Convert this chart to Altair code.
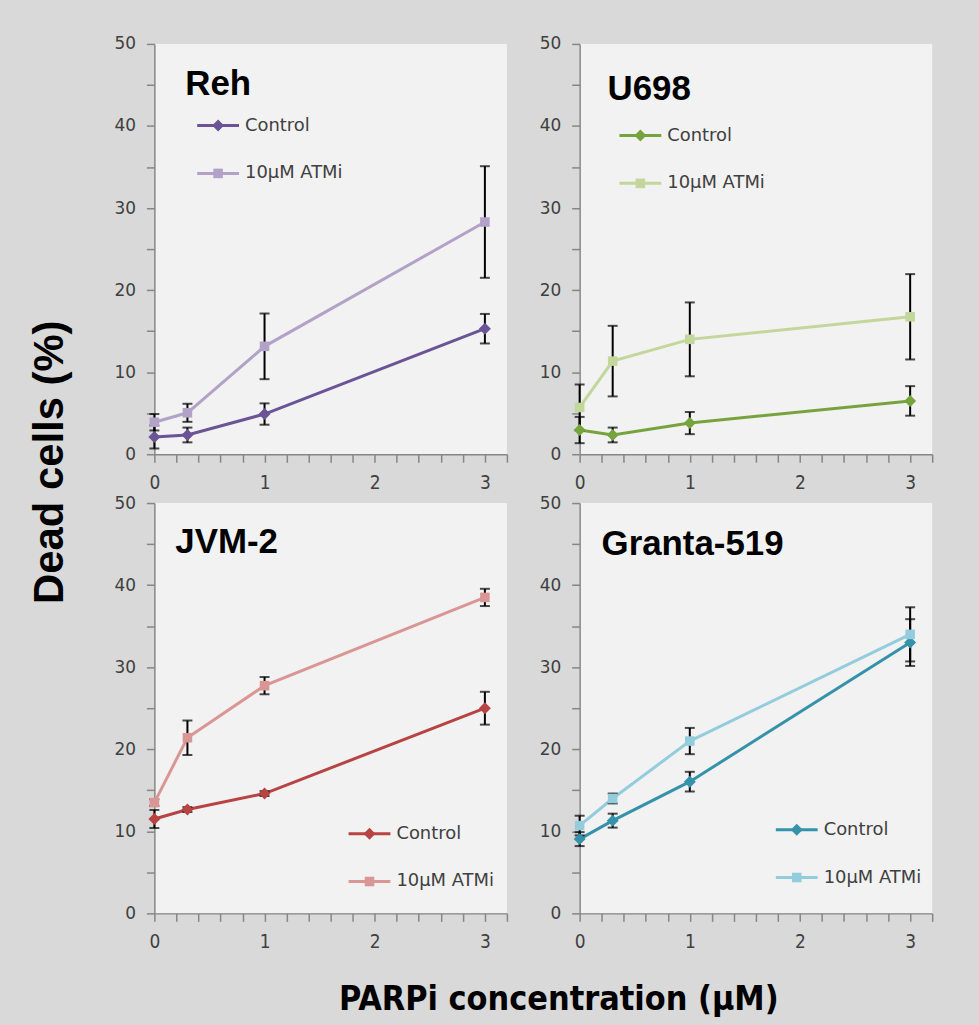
import altair as alt
import pandas as pd

# ---------------- data ----------------
x_conc = [0, 0.3, 1, 3]
series_names = ["Control", "10µM ATMi"]
series_keys = ["ctrl", "atmi"]

panel_names = ["Reh", "U698", "JVM-2", "Granta-519"]

reh_ctrl = [2.1, 2.35, 4.9, 15.3]
reh_ctrl_err = [1.4, 0.9, 1.3, 1.8]
reh_atmi = [3.9, 5.05, 13.15, 28.3]
reh_atmi_err = [1.0, 1.1, 4.0, 6.8]

u698_ctrl = [2.95, 2.35, 3.8, 6.5]
u698_ctrl_err = [1.6, 0.9, 1.35, 1.8]
u698_atmi = [5.7, 11.35, 14.0, 16.75]
u698_atmi_err = [2.8, 4.3, 4.5, 5.2]

jvm_ctrl = [11.5, 12.65, 14.6, 25.0]
jvm_ctrl_err = [1.1, 0.3, 0.3, 2.0]
jvm_atmi = [13.5, 21.4, 27.75, 38.5]
jvm_atmi_err = [0.4, 2.1, 1.05, 1.05]

granta_ctrl = [9.05, 11.3, 16.05, 33.0]
granta_ctrl_err = [0.85, 0.85, 1.2, 2.85]
granta_atmi = [10.7, 14.0, 21.0, 34.0]
granta_atmi_err = [1.2, 0.6, 1.6, 3.3]

x_tick_values = [0, 0.2, 0.4, 0.6, 0.8, 1, 1.2, 1.4, 1.6, 1.8, 2, 2.2, 2.4, 2.6, 2.8, 3, 3.2]
y_tick_values = [0, 5, 10, 15, 20, 25, 30, 35, 40, 45, 50]

# ---------------- styles ----------------
colors = {
    "Reh": ["#6a5496", "#b3a2c7"],
    "U698": ["#77a33f", "#c3d69b"],
    "JVM-2": ["#b84343", "#d99694"],
    "Granta-519": ["#3592ab", "#93cddd"],
}
marker_paths = ["M-1,0L0,-1L1,0L0,1Z", "M-0.8,-0.8H0.8V0.8H-0.8Z"]
line_path = "M-3.5,0H3.5"

# legend placement (px, relative to plot area) and panel-name placement
legend_pos = {"Reh": (55, 73), "U698": (52, 83), "JVM-2": (207, 323), "Granta-519": (209, 319)}
name_pos = {"Reh": (31, 51), "U698": (28, 56), "JVM-2": (21, 50), "Granta-519": (22, 52)}

PW, PH = 354, 412
narrow = "Liberation Sans Narrow, DejaVu Sans Condensed, Roboto Condensed, sans-serif"


def make_df(ctrl, ctrl_err, atmi, atmi_err):
    rows = []
    for name, key, vals, errs in [
        (series_names[0], series_keys[0], ctrl, ctrl_err),
        (series_names[1], series_keys[1], atmi, atmi_err),
    ]:
        for x, v, e in zip(x_conc, vals, errs):
            rows.append({"x": x, "y": v, "lo": v - e, "hi": v + e, "series": name, "key": key})
    return pd.DataFrame(rows)


def panel(name, df):
    cols = colors[name]
    lx, ly = legend_pos[name]
    nx, ny = name_pos[name]
    xenc = alt.X(
        "x:Q",
        scale=alt.Scale(domain=[0, 3.2], nice=False, zero=False),
        axis=alt.Axis(
            values=x_tick_values,
            tickCount=len(x_tick_values),
            labelExpr="abs(datum.value - round(datum.value)) < 0.001 ? format(datum.value, 'd') : ''",
            title=None,
            labelOverlap=False,
            labelFlush=False,
        ),
    )
    yscale = alt.Scale(domain=[0, 50], nice=False)
    yaxis = alt.Axis(
        values=y_tick_values,
        tickCount=len(y_tick_values),
        labelExpr="datum.value % 10 == 0 ? datum.value : ''",
        title=None,
        labelOverlap=False,
        labelFlush=False,
    )
    common_legend = dict(
        title=None,
        orient="none",
        legendX=lx,
        legendY=ly,
        symbolSize=144,
        labelFont="DejaVu Sans",
        labelFontSize=18,
        labelOffset=18,
        rowPadding=30,
        padding=0,
        labelLimit=400,
    )
    base = alt.Chart(df)
    lines = base.mark_line(strokeWidth=3).encode(
        x=xenc,
        y=alt.Y("y:Q", scale=yscale, axis=yaxis),
        color=alt.Color(
            "series:N",
            scale=alt.Scale(domain=series_names, range=cols),
            legend=alt.Legend(
                symbolType=line_path,
                symbolStrokeWidth=3,
                labelColor="#404040",
                zindex=1,
                **common_legend,
            ),
        ),
    )
    rules = base.mark_rule(color="black", strokeWidth=2).encode(
        x="x:Q", y="lo:Q", y2="hi:Q"
    )
    cap_lo = base.mark_tick(orient="horizontal", color="black", size=10, thickness=2).encode(
        x="x:Q", y="lo:Q"
    )
    cap_hi = base.mark_tick(orient="horizontal", color="black", size=10, thickness=2).encode(
        x="x:Q", y="hi:Q"
    )
    leg_b = alt.Legend(symbolStrokeWidth=0, labelExpr="' '", zindex=2, **common_legend)
    points = base.mark_point(filled=True, size=144, opacity=1, strokeWidth=0).encode(
        x="x:Q",
        y="y:Q",
        fill=alt.Fill("key:N", scale=alt.Scale(domain=series_keys, range=cols), legend=leg_b),
        shape=alt.Shape("key:N", scale=alt.Scale(domain=series_keys, range=marker_paths), legend=leg_b),
    )
    label = (
        alt.Chart(pd.DataFrame({"label": [name]}))
        .mark_text(
            align="left",
            baseline="alphabetic",
            font="Liberation Sans",
            fontSize=35,
            fontWeight="bold",
            color="black",
        )
        .encode(text="label:N", x=alt.value(nx), y=alt.value(ny))
    )
    return alt.layer(lines, rules, cap_lo, cap_hi, points, label).properties(width=PW, height=PH)


p1 = panel("Reh", make_df(reh_ctrl, reh_ctrl_err, reh_atmi, reh_atmi_err))
p2 = panel("U698", make_df(u698_ctrl, u698_ctrl_err, u698_atmi, u698_atmi_err))
p3 = panel("JVM-2", make_df(jvm_ctrl, jvm_ctrl_err, jvm_atmi, jvm_atmi_err))
p4 = panel("Granta-519", make_df(granta_ctrl, granta_ctrl_err, granta_atmi, granta_atmi_err))

grid = (
    alt.concat(p1, p2, p3, p4, columns=2, spacing={"row": 2, "column": 31})
    .resolve_scale(color="independent", fill="independent", shape="independent")
    .resolve_legend(color="independent", fill="independent", shape="independent")
    .properties(
        title=alt.TitleParams(
            "Dead cells (%)",
            orient="left",
            anchor="middle",
            offset=42,
            dx=31,
            font="Liberation Sans",
            fontSize=42,
            fontWeight="bold",
            color="black",
        )
    )
)

chart = (
    alt.vconcat(grid)
    .resolve_scale(color="independent", fill="independent", shape="independent")
    .properties(
        title=alt.TitleParams(
            "PARPi concentration (µM)",
            orient="bottom",
            anchor="middle",
            offset=32,
            dx=78,
            font=narrow,
            fontSize=34,
            fontWeight="bold",
            color="black",
        )
    )
    .configure(background="#d9d9d9", padding={"left": 29, "top": 33, "right": 46, "bottom": 12})
    .configure_view(fill="#f2f2f2", strokeWidth=0)
    .configure_axis(
        grid=False,
        domainColor="#868686",
        tickColor="#868686",
        domainWidth=1.5,
        tickWidth=1.5,
        tickSize=8,
        labelPadding=11,
        labelColor="#404040",
    )
    .configure_axisX(labelFont=narrow, labelFontSize=19)
    .configure_axisY(labelFont="DejaVu Sans", labelFontSize=17)
)

chart.save("out.html", embed_options={"renderer": "svg", "actions": False})
